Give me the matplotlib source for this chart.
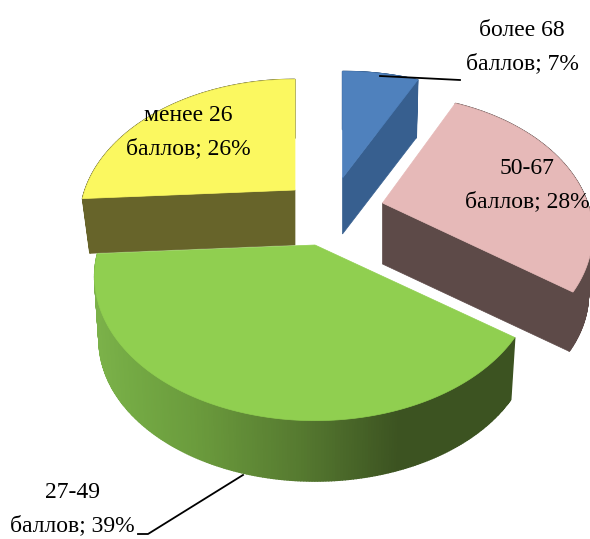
from matplotlib import pyplot as plt
from matplotlib.patches import Polygon
from matplotlib.colors import to_rgb
import numpy as np

plt.rcParams['font.family'] = ['Liberation Serif', 'DejaVu Serif']

shares = [7, 28, 39, 26]
labels = ['более 68\nбаллов; 7%', '50-67\nбаллов; 28%', '27-49\nбаллов; 39%', 'менее 26\nбаллов; 26%']

# slice geometry in pixels: apex x, apex y, half width, height scale, depth, bottom taper
layout = [
    (342.5, 178, 212, 130, 56, 0.98),
    (382.5, 203, 205, 132, 61, 0.98),
    (315, 245, 215, 137, 64, 0.98),
    (295, 190, 210, 135, 55, 0.965),
]
top_colors = ['#4f81bd', '#e6b9b8', '#90cf50', '#fbf860']
side_colors = ['#375f8f', '#5d4a48', '#3c5321', '#67642a']
label_pos = [(522, 47), (527, 185), (72, 509), (188, 132)]
# green rim shading, left to right along the front
rim_x = [92, 130, 200, 300, 400, 510]
rim_colors = ['#7cb24a', '#74aa44', '#6a9a3c', '#567a30', '#3c5321', '#3c5321']

PERSP = 0.22


def project(t, cx, cy, a, b):
    d = 1 + PERSP * np.cos(t)
    return cx + a * np.sin(t) / d, cy - b * np.cos(t) / d


def rim_color(x):
    rgb = np.array([to_rgb(c) for c in rim_colors])
    return [np.interp(x, rim_x, rgb[:, i]) for i in range(3)]


fig = plt.figure(figsize=(5.9, 5.39), dpi=100)
ax = fig.add_axes([0, 0, 1, 1])
ax.set_xlim(0, 590)
ax.set_ylim(539, 0)
ax.axis('off')

edges = np.radians(np.concatenate([[0], np.cumsum(shares)]) * 3.6)
wedges = []
for i, (cx, cy, a, b, depth, taper) in enumerate(layout):
    wedges.append((i, edges[i], edges[i + 1], cx, cy, a, b, depth, taper))

# back to front: blue, yellow, pink, green
for i, t0, t1, cx, cy, a, b, depth, taper in [wedges[0], wedges[3], wedges[1], wedges[2]]:
    t = np.linspace(t0, t1, 240)
    x, y = project(t, cx, cy, a, b)
    xb, yb = project(t, cx, cy + depth, a * taper, b * taper)

    # outer wall
    for j in range(len(t) - 1):
        quad = [(x[j], y[j]), (x[j + 1], y[j + 1]), (xb[j + 1], yb[j + 1]), (xb[j], yb[j])]
        c = rim_color(x[j]) if i == 2 else side_colors[i]
        ax.add_patch(Polygon(quad, closed=True, fc=c, ec=c, lw=1.0))

    # cut face
    if i == 3:
        ax.add_patch(Polygon([(cx, cy), (x[0], y[0]), (xb[0], yb[0]), (cx, cy + depth)],
                             closed=True, fc=side_colors[i], ec=side_colors[i], lw=0.5))
    elif i in (0, 1):
        ax.add_patch(Polygon([(cx, cy), (x[-1], y[-1]), (xb[-1], yb[-1]), (cx, cy + depth)],
                             closed=True, fc=side_colors[i], ec=side_colors[i], lw=0.5))

    ax.add_patch(Polygon(np.column_stack([np.r_[cx, x], np.r_[cy, y]]), closed=True,
                         fc=top_colors[i], ec=top_colors[i], lw=0.5))

# leader lines
ax.plot([380, 460], [76, 80], color='black', lw=1.3)
ax.plot([243, 148, 138], [475, 534, 534], color='black', lw=1.3)

for text, (lx, ly) in zip(labels, label_pos):
    ax.text(lx, ly, text, ha='center', va='center', fontsize=17, linespacing=1.72, color='black')

fig.savefig('out.png', dpi=100)
